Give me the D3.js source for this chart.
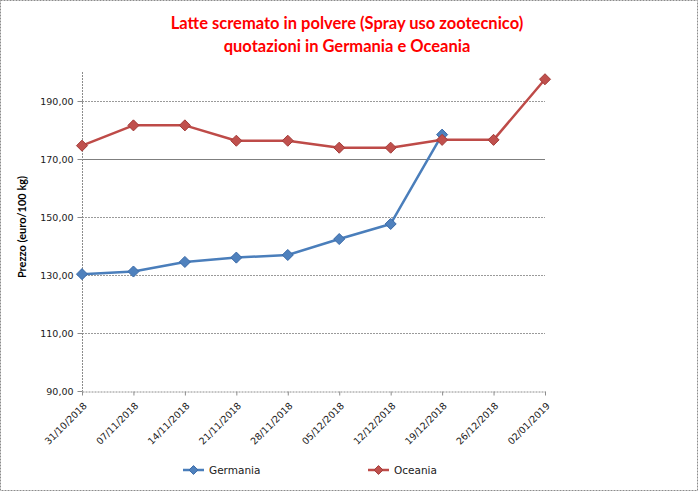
<!DOCTYPE html>
<html>
<head>
<meta charset="utf-8">
<script src="https://cdn.jsdelivr.net/npm/d3@7/dist/d3.min.js"></script>
<style>
  html, body { margin: 0; padding: 0; background: #fff; }
  svg { display: block; }
</style>
</head>
<body>
<script>
const categories = ["31/10/2018","07/11/2018","14/11/2018","21/11/2018","28/11/2018","05/12/2018","12/12/2018","19/12/2018","26/12/2018","02/01/2019"];
const germania = [130.3, 131.2, 134.5, 136.0, 136.9, 142.4, 147.6, 178.4, null, null];
const oceania  = [174.6, 181.6, 181.6, 176.3, 176.3, 173.9, 173.9, 176.6, 176.6, 197.5];
const yTicks = [90, 110, 130, 150, 170, 190];
const titleLines = ["Latte scremato in polvere (Spray uso zootecnico)", "quotazioni in Germania e Oceania"];
const yTitle = "Prezzo (euro/100 kg)";
const seriesNames = ["Germania", "Oceania"];

const W = 698, H = 492;
const plot = { left: 82, right: 545, top: 72, bottom: 391 };

const svg = d3.select("body").append("svg").attr("width", W).attr("height", H);

// outer border
svg.append("rect").attr("x", 0.5).attr("y", 0.5).attr("width", W - 1).attr("height", H - 2)
  .attr("fill", "#fff").attr("stroke", "#8c8c8c").attr("stroke-dasharray", "2,1");

const x = d3.scalePoint().domain(categories).range([plot.left, plot.right]);
const y = d3.scaleLinear().domain([90, 200]).range([plot.bottom, plot.top]);

// gridlines
svg.append("g").selectAll("line").data(yTicks.filter(t => t > 90)).join("line")
  .attr("x1", plot.left).attr("x2", plot.right)
  .attr("y1", d => Math.round(y(d)) + 0.5).attr("y2", d => Math.round(y(d)) + 0.5)
  .attr("stroke", d => d === 170 ? "#7f7f7f" : "#9a9a9a")
  .attr("stroke-dasharray", d => d === 170 ? null : "2,1");

// y axis
const yAxis = d3.axisLeft(y).tickValues(yTicks).tickSize(5).tickPadding(4)
  .tickFormat(d => d3.format(".2f")(d).replace(".", ","));
const gy = svg.append("g").attr("transform", `translate(${plot.left + 0.5},0)`).call(yAxis);
gy.select(".domain").attr("stroke", "#8c8c8c").attr("stroke-dasharray", "2,1")
  .attr("d", `M0,${plot.top}V${plot.bottom}`);
gy.selectAll(".tick line").attr("stroke", "#8c8c8c");
gy.selectAll(".tick text").attr("font-family", "DejaVu Sans").attr("font-size", 9.5).attr("fill", "#1a1a1a");

// x axis
const xAxis = d3.axisBottom(x).tickSize(4).tickSizeOuter(0);
const gx = svg.append("g").attr("transform", `translate(0,${plot.bottom + 0.5})`).call(xAxis);
gx.select(".domain").attr("stroke", "#8c8c8c").attr("stroke-dasharray", "2,1");
gx.selectAll(".tick line").attr("stroke", "#8c8c8c");
gx.selectAll(".tick text")
  .attr("font-family", "DejaVu Sans").attr("font-size", 9.5).attr("fill", "#1a1a1a")
  .attr("text-anchor", "end").attr("dy", null).attr("y", 0)
  .attr("transform", "translate(5,15) rotate(-45)");

// title
svg.append("g").selectAll("text").data(titleLines).join("text")
  .attr("x", 347).attr("y", (d, i) => 29 + i * 23)
  .attr("text-anchor", "middle").attr("font-family", "Lato").attr("font-weight", "bold")
  .attr("font-size", 16.5).attr("fill", "#ff0000").text(d => d);

// y title
svg.append("text").attr("transform", "translate(26,227) rotate(-90)")
  .attr("text-anchor", "middle").attr("font-family", "Lato").attr("font-weight", "bold")
  .attr("font-size", 11).attr("fill", "#000").text(yTitle);

const styles = [
  { line: "#4A7EBB", fill: "#4F81BD", stroke: "#3A6AA8" },
  { line: "#BE4B48", fill: "#C0504D", stroke: "#A33C39" }
];
const data = [germania, oceania];
const diamond = d3.symbol().type(d3.symbolDiamond2).size(78);

const line = d3.line().defined(d => d.v != null).x(d => x(d.c)).y(d => y(d.v));

data.forEach((vals, si) => {
  const pts = vals.map((v, i) => ({ c: categories[i], v }));
  svg.append("path").datum(pts).attr("d", line).attr("fill", "none")
    .attr("stroke", styles[si].line).attr("stroke-width", 2.5).attr("stroke-linejoin", "round");
  svg.append("g").selectAll("path").data(pts.filter(d => d.v != null)).join("path")
    .attr("d", diamond)
    .attr("transform", d => `translate(${x(d.c)},${y(d.v)})`)
    .attr("fill", styles[si].fill).attr("stroke", styles[si].stroke).attr("stroke-width", 1);
});

// legend
const legendX = [183, 368];
seriesNames.forEach((name, i) => {
  const g = svg.append("g").attr("transform", `translate(${legendX[i]},470)`);
  g.append("line").attr("x1", 0).attr("x2", 21).attr("stroke", styles[i].line).attr("stroke-width", 2.5);
  g.append("path").attr("d", d3.symbol().type(d3.symbolDiamond2).size(50)).attr("transform", "translate(10.5,0)")
    .attr("fill", styles[i].fill).attr("stroke", styles[i].stroke);
  g.append("text").attr("x", 26).attr("y", 4).attr("font-family", "DejaVu Sans").attr("font-size", 10.5)
    .attr("fill", "#1a1a1a").text(name);
});
</script>
</body>
</html>
